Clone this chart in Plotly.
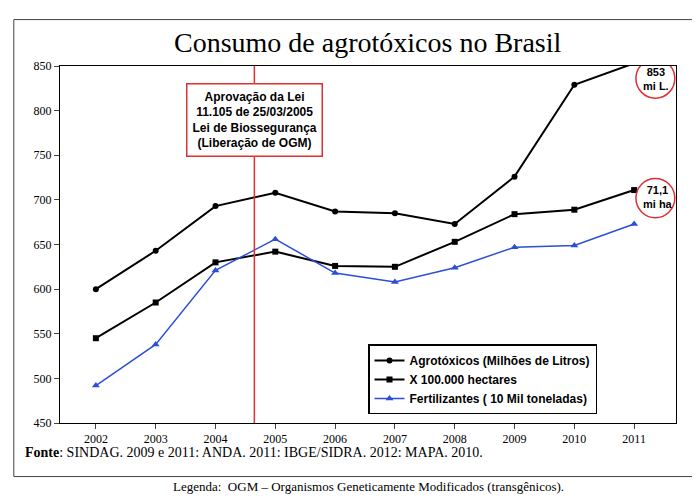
import plotly.graph_objects as go

years = [2002, 2003, 2004, 2005, 2006, 2007, 2008, 2009, 2010, 2011]
agrotoxicos = [600, 643, 693, 708, 687, 685, 673, 726, 829, 853]
hectares = [545, 585, 630, 642, 626, 625, 653, 684, 689, 711]
fertilizantes = [492, 538, 621, 656, 618, 608, 624, 647, 649, 673]

fig = go.Figure()
fig.add_trace(go.Scatter(x=years, y=agrotoxicos, name="<b>Agrotóxicos (Milhões de Litros)</b>",
                         mode="lines+markers", line=dict(color="black", width=2),
                         marker=dict(symbol="circle", size=6, color="black"), cliponaxis=False))
fig.add_trace(go.Scatter(x=years, y=hectares, name="<b>X 100.000 hectares</b>",
                         mode="lines+markers", line=dict(color="black", width=2),
                         marker=dict(symbol="square", size=6, color="black")))
fig.add_trace(go.Scatter(x=years, y=fertilizantes, name="<b>Fertilizantes ( 10 Mil toneladas)</b>",
                         mode="lines+markers", line=dict(color="#2b4fd6", width=1.5),
                         marker=dict(symbol="triangle-up", size=7, color="#2b4fd6")))

# approval of the law (between 2004 and 2005)
fig.add_shape(type="line", x0=2004.65, x1=2004.65, y0=450, y1=850,
              line=dict(color="#e03030", width=1.5))
fig.add_annotation(x=2004.65, y=790, text="<b>Aprovação da Lei<br>11.105 de 25/03/2005<br>Lei de Biossegurança<br>(Liberação de OGM)</b>",
                   showarrow=False, font=dict(size=12, color="black", family="Arial"),
                   bgcolor="white", bordercolor="#e03030", borderwidth=1.5, borderpad=5)

fig.add_annotation(x=2011.12, y=836, text="<b>853<br>mi L.</b>", showarrow=False, xanchor="left",
                   font=dict(size=11, family="Arial"))
fig.add_shape(type="circle", xref="x", yref="y", x0=2011.03, x1=2011.68, y0=814, y1=858,
              line=dict(color="#e03030", width=1.5))
fig.add_annotation(x=2011.12, y=703, text="<b>71,1<br>mi ha</b>", showarrow=False, xanchor="left",
                   font=dict(size=11, family="Arial"))
fig.add_shape(type="circle", xref="x", yref="y", x0=2011.03, x1=2011.68, y0=680, y1=724,
              line=dict(color="#e03030", width=1.5))

fig.add_annotation(xref="paper", yref="paper", x=0.5, y=1.0, yanchor="bottom", yshift=6,
                   text="Consumo de agrotóxicos no Brasil", showarrow=False,
                   font=dict(size=28, family="Liberation Sans Narrow", color="black"))
fig.add_annotation(xref="paper", yref="paper", x=-0.06, y=-0.11, xanchor="left",
                   text="<b>Fonte</b>: SINDAG. 2009 e 2011: ANDA. 2011: IBGE/SIDRA. 2012: MAPA. 2010.",
                   showarrow=False, font=dict(size=14, family="Liberation Serif", color="black"))
fig.add_annotation(xref="paper", yref="paper", x=0.5, y=-0.205,
                   text="Legenda:  OGM – Organismos Geneticamente Modificados (transgênicos).",
                   showarrow=False, font=dict(size=13, family="Liberation Serif", color="black"))
fig.add_shape(type="rect", xref="paper", yref="paper", x0=-0.075, x1=1.035, y0=-0.15, y1=1.13,
              line=dict(color="#444", width=1))

fig.update_layout(
    width=700, height=499,
    margin=dict(l=52, r=32, t=58, b=84),
    paper_bgcolor="white", plot_bgcolor="white",
    font=dict(family="Arial", color="black"),
    showlegend=True,
    legend=dict(x=0.5, y=0.22, xanchor="left", yanchor="top", bgcolor="white",
                bordercolor="black", borderwidth=1.5, font=dict(size=12),
                tracegroupgap=2),
    xaxis=dict(range=[2001.4, 2011.7], tickvals=years, showgrid=False,
               showline=True, linecolor="black", ticks="outside",
               tickfont=dict(size=12, family="Arial Black"), mirror=True),
    yaxis=dict(range=[450, 850], dtick=50, showgrid=False, showline=True,
               linecolor="black", ticks="outside", mirror=True,
               tickfont=dict(size=12, family="Arial Black")),
)

fig.write_html("out.html")
